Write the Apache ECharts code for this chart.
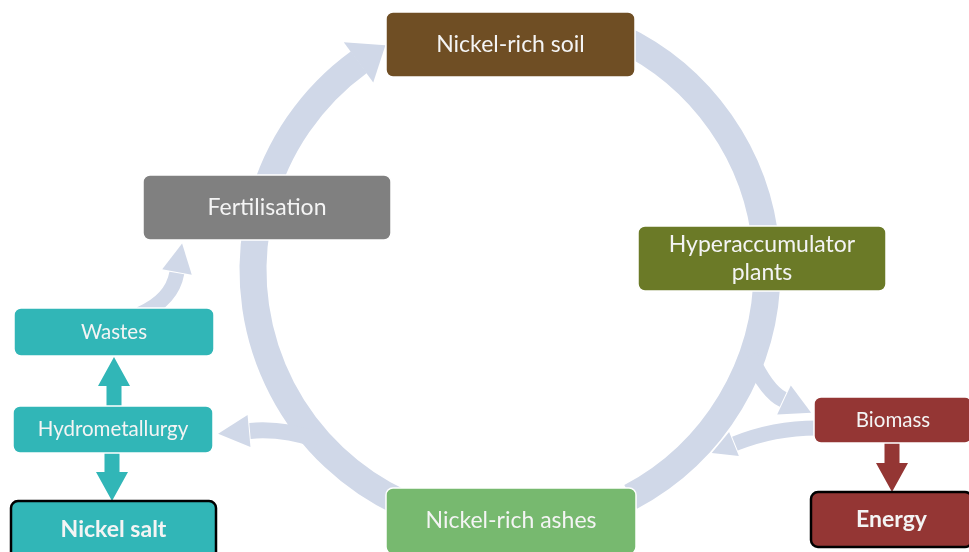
<!DOCTYPE html>
<html>
<head>
<meta charset="utf-8">
<script src="https://cdn.jsdelivr.net/npm/echarts@6/dist/echarts.min.js"></script>
<style>
html, body { margin: 0; padding: 0; background: #fff; }
#chart { width: 969px; height: 552px; }
</style>
</head>
<body>
<div id="chart"></div>
<script>
// 节点
const nodeNames = ['Nickel-rich soil', 'Hyperaccumulator\nplants', 'Biomass', 'Energy',
    'Nickel-rich ashes', 'Hydrometallurgy', 'Wastes', 'Nickel salt', 'Fertilisation']
// 流向 (from -> to)
const flowLinks = [
    ['Nickel-rich soil', 'Hyperaccumulator\nplants'],
    ['Hyperaccumulator\nplants', 'Biomass'],
    ['Biomass', 'Nickel-rich ashes'],
    ['Biomass', 'Energy'],
    ['Nickel-rich ashes', 'Hydrometallurgy'],
    ['Nickel-rich ashes', 'Fertilisation'],
    ['Hydrometallurgy', 'Wastes'],
    ['Hydrometallurgy', 'Nickel salt'],
    ['Wastes', 'Fertilisation'],
    ['Fertilisation', 'Nickel-rich soil']
]

// 布局 (像素坐标, 同轴的 0..969 / 0..552)
const nodeBoxes = [
    [386, 12, 635, 77], [638, 226, 886, 291], [814, 397, 972, 443], [811, 492, 972, 547],
    [386, 488, 636, 554], [13, 406, 213, 453], [14, 308, 214, 356], [11, 501, 216, 559], [143, 175, 391, 240]
]
const nodeColors = ['#6f4e24', '#6b7a27', '#943634', '#943634', '#77b96f', '#31b6b7', '#31b6b7', '#31b6b7', '#808080']
const nodeBold = [false, false, false, true, false, false, false, true, false]
const nodeFont = [23, 23, 20.5, 23, 23, 20.5, 20.5, 23, 23]

// 圆环
const ringCenter = [510, 270]
const ringRadius = 257
const ringWidth = 27
const ringColor = '#d0d8e8'
// [start, end, tip] 角度 (度, 顺时针)
const ringArcs = [[-65, -5, null], [0, 62, null], [115, 190, null], [195, 234, 241]]
// 分支 {from, ctrl, to, head, half, width}
const branchCurves = [
    { from: [750, 356], ctrl: [767, 392], to: [784, 400], head: 30, half: 16, width: 16 },
    { from: [822, 428], ctrl: [776, 427], to: [734, 444], head: 24, half: 13, width: 15 },
    { from: [318, 440], ctrl: [282, 428], to: [249, 431], head: 31, half: 16, width: 16 },
    { from: [140, 314], ctrl: [172, 300], to: [177, 272], head: 29, half: 15, width: 15 }
]
// 直箭头 [x, yFrom, yTo, color]
const straightArrows = [[114, 407, 357, '#31b6b7'], [112, 452, 501, '#31b6b7'], [892, 442, 492, '#943634']]

const rad = d => d * Math.PI / 180

function ringItem(params, api) {
    const a = ringArcs[params.dataIndex]
    const c = api.coord(ringCenter)
    const k = api.size([1, 0])[0]
    const r = ringRadius * k
    const children = [{
        type: 'arc',
        shape: { cx: c[0], cy: c[1], r: r, startAngle: rad(a[0]), endAngle: rad(a[1]), clockwise: true },
        style: { stroke: ringColor, lineWidth: ringWidth * k, fill: 'none', lineCap: 'butt' }
    }]
    if (a[2] != null) {
        const b = rad(a[1]) - 0.002, t = rad(a[2])
        const ro = r + 25 * k, ri = r - 25 * k
        children.push({
            type: 'polygon',
            shape: { points: [
                [c[0] + ro * Math.cos(b), c[1] + ro * Math.sin(b)],
                [c[0] + r * Math.cos(t), c[1] + r * Math.sin(t)],
                [c[0] + ri * Math.cos(b), c[1] + ri * Math.sin(b)]
            ] },
            style: { fill: ringColor }
        })
    }
    return { type: 'group', children: children }
}

function branchItem(params, api) {
    const b = branchCurves[params.dataIndex]
    const p0 = api.coord(b.from), c = api.coord(b.ctrl), p1 = api.coord(b.to)
    const dx = p1[0] - c[0], dy = p1[1] - c[1]
    const len = Math.hypot(dx, dy)
    const ux = dx / len, uy = dy / len
    const tip = [p1[0] + ux * b.head, p1[1] + uy * b.head]
    const l = [p1[0] - uy * b.half, p1[1] + ux * b.half]
    const r = [p1[0] + uy * b.half, p1[1] - ux * b.half]
    return {
        type: 'group',
        children: [
            {
                type: 'bezierCurve',
                shape: { x1: p0[0], y1: p0[1], x2: p1[0] - ux * 1, y2: p1[1] - uy * 1, cpx1: c[0], cpy1: c[1] },
                style: { stroke: ringColor, lineWidth: b.width, fill: 'none', lineCap: 'butt' }
            },
            { type: 'polygon', shape: { points: [l, tip, r] }, style: { fill: ringColor } }
        ]
    }
}

function arrowItem(params, api) {
    const a = straightArrows[params.dataIndex]
    const p0 = api.coord([a[0], a[1]]), p1 = api.coord([a[0], a[2]])
    const dir = p1[1] > p0[1] ? 1 : -1
    const headLen = 29, half = 16, shaft = 7.5
    const hb = p1[1] - dir * headLen
    return {
        type: 'polygon',
        shape: { points: [
            [p0[0] - shaft, p0[1]], [p0[0] - shaft, hb], [p0[0] - half, hb], [p1[0], p1[1]],
            [p0[0] + half, hb], [p0[0] + shaft, hb], [p0[0] + shaft, p0[1]]
        ] },
        style: { fill: a[3] }
    }
}

function boxItem(params, api) {
    const i = params.dataIndex
    const bx = nodeBoxes[i]
    const p0 = api.coord([bx[0], bx[1]]), p1 = api.coord([bx[2], bx[3]])
    return {
        type: 'rect',
        shape: { x: p0[0], y: p0[1], width: p1[0] - p0[0], height: p1[1] - p0[1], r: 7 },
        style: {
            fill: nodeColors[i],
            stroke: nodeBold[i] ? '#000' : '#fff',
            lineWidth: nodeBold[i] ? 2.5 : 1.5
        },
        textContent: {
            style: {
                text: nodeNames[i],
                fill: '#f4f4f4',
                font: (nodeBold[i] ? 'bold ' : '') + nodeFont[i] + 'px Lato, sans-serif',
                lineHeight: 28,
                align: 'center'
            }
        },
        textConfig: { position: 'inside' }
    }
}

let myChart = echarts.init(document.getElementById('chart'))

let option = {
    animation: false,
    grid: { left: 0, right: 0, top: 0, bottom: 0 },
    xAxis: { type: 'value', min: 0, max: 969, show: false },
    yAxis: { type: 'value', min: 0, max: 552, inverse: true, show: false },
    series: [
        {
            type: 'custom', name: 'ring', clip: false, z: 1,
            renderItem: ringItem,
            data: ringArcs.map(a => ringCenter)
        },
        {
            type: 'custom', name: 'branches', clip: false, z: 2,
            renderItem: branchItem,
            data: branchCurves.map(b => b.from)
        },
        {
            type: 'custom', name: 'arrows', clip: false, z: 3,
            renderItem: arrowItem,
            data: straightArrows.map(a => [a[0], a[1]])
        },
        {
            type: 'custom', name: 'nodes', clip: false, z: 4,
            renderItem: boxItem,
            data: nodeBoxes.map((b, i) => ({ name: nodeNames[i], value: [b[0], b[1]] }))
        }
    ]
}

myChart.setOption(option)
</script>
</body>
</html>
